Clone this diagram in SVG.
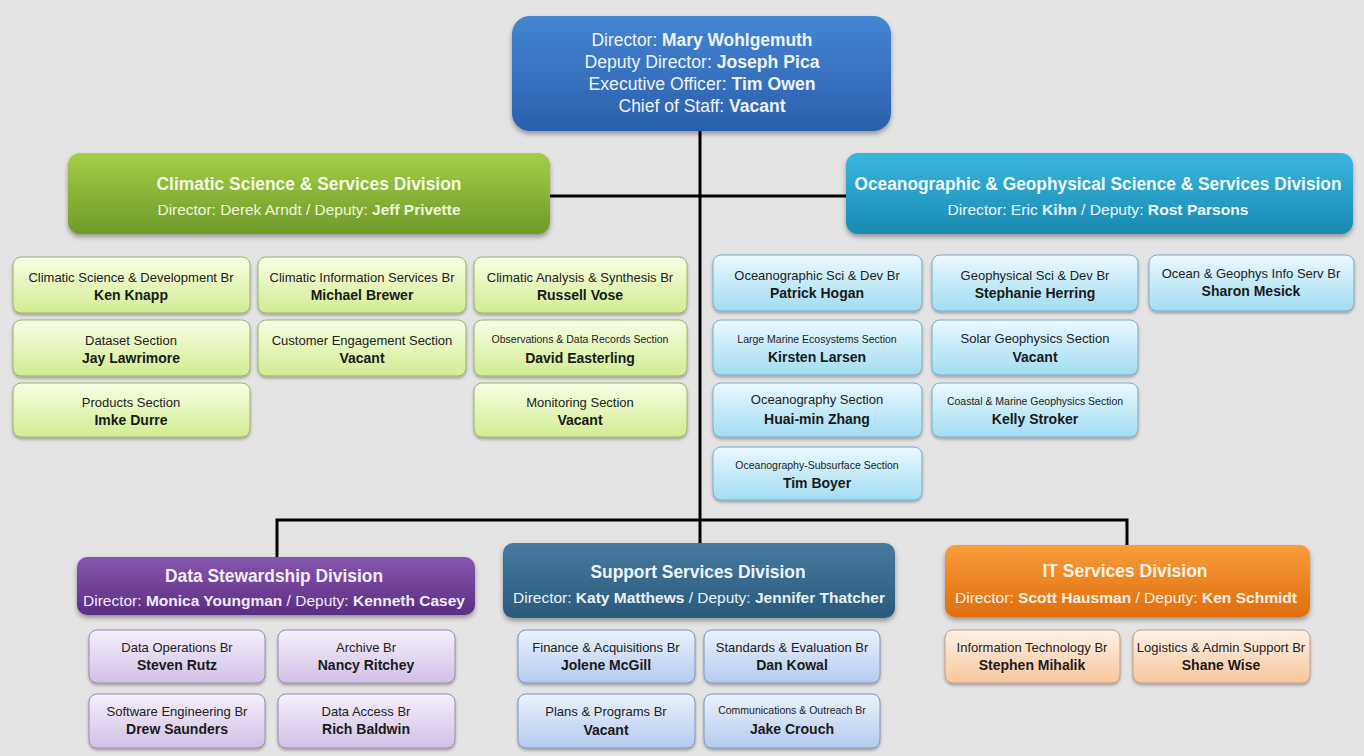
<svg xmlns="http://www.w3.org/2000/svg" width="1364" height="756" viewBox="0 0 1364 756">
<defs>
<linearGradient id="gTop" x1="0" y1="0" x2="0" y2="1"><stop offset="0" stop-color="#4585d2"/><stop offset="1" stop-color="#2a60ac"/></linearGradient>
<linearGradient id="gCli" x1="0" y1="0" x2="0" y2="1"><stop offset="0" stop-color="#a6ce46"/><stop offset="1" stop-color="#6e9a2a"/></linearGradient>
<linearGradient id="gOce" x1="0" y1="0" x2="0" y2="1"><stop offset="0" stop-color="#3ab6de"/><stop offset="1" stop-color="#1a8ab2"/></linearGradient>
<linearGradient id="gDat" x1="0" y1="0" x2="0" y2="1"><stop offset="0" stop-color="#8856ae"/><stop offset="1" stop-color="#5a2e82"/></linearGradient>
<linearGradient id="gSup" x1="0" y1="0" x2="0" y2="1"><stop offset="0" stop-color="#467a9e"/><stop offset="1" stop-color="#2a5a7c"/></linearGradient>
<linearGradient id="gIT" x1="0" y1="0" x2="0" y2="1"><stop offset="0" stop-color="#fa9c3c"/><stop offset="1" stop-color="#de6e0e"/></linearGradient>
<linearGradient id="lCli" x1="0" y1="0" x2="0" y2="1"><stop offset="0" stop-color="#f8fee4"/><stop offset="1" stop-color="#d2ec92"/></linearGradient>
<linearGradient id="lOce" x1="0" y1="0" x2="0" y2="1"><stop offset="0" stop-color="#eaf9fe"/><stop offset="1" stop-color="#a2dcf2"/></linearGradient>
<linearGradient id="lDat" x1="0" y1="0" x2="0" y2="1"><stop offset="0" stop-color="#f6f0fb"/><stop offset="1" stop-color="#d0c0e6"/></linearGradient>
<linearGradient id="lSup" x1="0" y1="0" x2="0" y2="1"><stop offset="0" stop-color="#ecf2fc"/><stop offset="1" stop-color="#b4caee"/></linearGradient>
<linearGradient id="lIT" x1="0" y1="0" x2="0" y2="1"><stop offset="0" stop-color="#fff2e6"/><stop offset="1" stop-color="#f8c69c"/></linearGradient>
<filter id="sh" x="-10%" y="-20%" width="120%" height="150%"><feDropShadow dx="0" dy="3" stdDeviation="2.5" flood-color="#000" flood-opacity="0.35"/></filter>
<filter id="shs" x="-10%" y="-20%" width="120%" height="150%"><feDropShadow dx="0" dy="2" stdDeviation="1.5" flood-color="#000" flood-opacity="0.3"/></filter>
</defs>
<style>
text{font-family:"Liberation Sans Narrow","Liberation Sans",Arial,sans-serif;text-anchor:middle}
.b{font-weight:bold}
.big{filter:url(#sh)}
.sm{filter:url(#shs);stroke-width:1}
.cli{fill:url(#lCli);stroke:#9cb46a}
.oce{fill:url(#lOce);stroke:#76aecb}
.dat{fill:url(#lDat);stroke:#9a88b4}
.sup{fill:url(#lSup);stroke:#7e94bc}
.it{fill:url(#lIT);stroke:#c89c7c}
.t1{font-size:13px;fill:#222}
.t1s{font-size:10.5px;fill:#222}
.t2{font-size:14px;font-weight:bold;fill:#1a1a1a}
.dt{font-size:18px;font-weight:bold}
.ds{font-size:15px}
.top{font-size:18px;fill:#eef3fc}
.conn{stroke:#000;stroke-width:3;fill:none}
</style>
<rect width="1364" height="756" fill="#e4e4e4"/>
<g id="connectors">
<line class="conn" x1="700" y1="131" x2="700" y2="521"/>
<line class="conn" x1="550" y1="196" x2="846" y2="196"/>
<polyline class="conn" points="277,558 277,520 1127,520 1127,546"/>
<line class="conn" x1="700" y1="520" x2="700" y2="544"/>
</g>
<g id="director">
<rect class="big" x="512" y="16" width="379" height="115" rx="18" fill="url(#gTop)"/>
<text class="top" x="702" y="46" textLength="221" lengthAdjust="spacingAndGlyphs">Director: <tspan class="b">Mary Wohlgemuth</tspan></text>
<text class="top" x="702" y="68" textLength="235" lengthAdjust="spacingAndGlyphs">Deputy Director:  <tspan class="b">Joseph Pica</tspan></text>
<text class="top" x="702" y="90" textLength="227" lengthAdjust="spacingAndGlyphs">Executive Officer:  <tspan class="b">Tim Owen</tspan></text>
<text class="top" x="702" y="112" textLength="167" lengthAdjust="spacingAndGlyphs">Chief of Staff: <tspan class="b">Vacant</tspan></text>
</g>
<g id="climatic-division">
<rect class="big" x="68" y="153" width="482" height="81" rx="12" fill="url(#gCli)"/>
<text class="dt" x="309" y="190" fill="#f2f9e2" textLength="305" lengthAdjust="spacingAndGlyphs">Climatic Science &amp; Services Division</text>
<text class="ds" x="309" y="215" fill="#eef6dc" textLength="303" lengthAdjust="spacingAndGlyphs">Director: Derek Arndt / Deputy: <tspan class="b">Jeff Privette</tspan></text>
</g>
<g id="ocean-division">
<rect class="big" x="846" y="153" width="507" height="81" rx="12" fill="url(#gOce)"/>
<text class="dt" x="1098" y="190" fill="#eefaff" textLength="487" lengthAdjust="spacingAndGlyphs">Oceanographic &amp; Geophysical Science &amp; Services Division</text>
<text class="ds" x="1098" y="215" fill="#eaf8ff" textLength="301" lengthAdjust="spacingAndGlyphs">Director: Eric <tspan class="b">Kihn</tspan> / Deputy: <tspan class="b">Rost Parsons</tspan></text>
</g>
<g id="cli-sci-dev"><rect class="sm cli" x="13" y="257" width="237" height="56" rx="8"/><text class="t1" x="131" y="282">Climatic Science &amp; Development Br</text><text class="t2" x="131" y="300">Ken Knapp</text></g>
<g id="dataset-section"><rect class="sm cli" x="13" y="320" width="237" height="56" rx="8"/><text class="t1" x="131" y="345">Dataset Section</text><text class="t2" x="131" y="363">Jay Lawrimore</text></g>
<g id="products-section"><rect class="sm cli" x="13" y="383" width="237" height="54" rx="8"/><text class="t1" x="131" y="407">Products Section</text><text class="t2" x="131" y="425">Imke Durre</text></g>
<g id="cli-info-serv"><rect class="sm cli" x="258" y="257" width="208" height="56" rx="8"/><text class="t1" x="362" y="282">Climatic Information Services Br</text><text class="t2" x="362" y="300">Michael Brewer</text></g>
<g id="customer-engagement"><rect class="sm cli" x="258" y="320" width="208" height="56" rx="8"/><text class="t1" x="362" y="345">Customer Engagement Section</text><text class="t2" x="362" y="363">Vacant</text></g>
<g id="cli-analysis"><rect class="sm cli" x="474" y="257" width="213" height="56" rx="8"/><text class="t1" x="580" y="282">Climatic Analysis &amp; Synthesis Br</text><text class="t2" x="580" y="300">Russell Vose</text></g>
<g id="obs-data-records"><rect class="sm cli" x="474" y="320" width="213" height="56" rx="8"/><text class="t1s" x="580" y="343">Observations &amp; Data Records Section</text><text class="t2" x="580" y="363">David Easterling</text></g>
<g id="monitoring-section"><rect class="sm cli" x="474" y="383" width="213" height="54" rx="8"/><text class="t1" x="580" y="407">Monitoring Section</text><text class="t2" x="580" y="425">Vacant</text></g>
<g id="ocean-sci-dev"><rect class="sm oce" x="713" y="255" width="209" height="56" rx="8"/><text class="t1" x="817" y="280">Oceanographic  Sci &amp; Dev Br</text><text class="t2" x="817" y="298">Patrick Hogan</text></g>
<g id="large-marine"><rect class="sm oce" x="713" y="320" width="209" height="55" rx="8"/><text class="t1s" x="817" y="343">Large Marine Ecosystems Section</text><text class="t2" x="817" y="362">Kirsten Larsen</text></g>
<g id="oceanography-section"><rect class="sm oce" x="713" y="383" width="209" height="54" rx="8"/><text class="t1" x="817" y="404">Oceanography  Section</text><text class="t2" x="817" y="424">Huai-min Zhang</text></g>
<g id="ocean-subsurface"><rect class="sm oce" x="713" y="447" width="209" height="53" rx="8"/><text class="t1s" x="817" y="469">Oceanography-Subsurface Section</text><text class="t2" x="817" y="488">Tim Boyer</text></g>
<g id="geo-sci-dev"><rect class="sm oce" x="932" y="255" width="206" height="56" rx="8"/><text class="t1" x="1035" y="280">Geophysical Sci &amp; Dev Br</text><text class="t2" x="1035" y="298">Stephanie Herring</text></g>
<g id="solar-geophysics"><rect class="sm oce" x="932" y="320" width="206" height="55" rx="8"/><text class="t1" x="1035" y="343">Solar Geophysics Section</text><text class="t2" x="1035" y="362">Vacant</text></g>
<g id="coastal-marine"><rect class="sm oce" x="932" y="383" width="206" height="54" rx="8"/><text class="t1s" x="1035" y="405">Coastal &amp; Marine Geophysics Section</text><text class="t2" x="1035" y="424">Kelly Stroker</text></g>
<g id="ocean-geo-info"><rect class="sm oce" x="1149" y="255" width="205" height="56" rx="8"/><text class="t1" x="1251" y="278">Ocean &amp; Geophys Info Serv Br</text><text class="t2" x="1251" y="296">Sharon Mesick</text></g>
<g id="data-stewardship-division">
<rect class="big" x="77" y="557" width="398" height="58" rx="10" fill="url(#gDat)"/>
<text class="dt" x="274" y="582" fill="#f4eefa" textLength="218" lengthAdjust="spacingAndGlyphs">Data Stewardship Division</text>
<text class="ds" x="274" y="606" fill="#f0eaf8" textLength="382" lengthAdjust="spacingAndGlyphs">Director: <tspan class="b">Monica Youngman</tspan> / Deputy: <tspan class="b">Kenneth Casey</tspan></text>
</g>
<g id="data-operations"><rect class="sm dat" x="89" y="630" width="176" height="53" rx="8"/><text class="t1" x="177" y="652">Data Operations Br</text><text class="t2" x="177" y="670">Steven Rutz</text></g>
<g id="archive"><rect class="sm dat" x="278" y="630" width="177" height="53" rx="8"/><text class="t1" x="366" y="652">Archive Br</text><text class="t2" x="366" y="670">Nancy Ritchey</text></g>
<g id="software-engineering"><rect class="sm dat" x="89" y="694" width="176" height="54" rx="8"/><text class="t1" x="177" y="716">Software Engineering  Br</text><text class="t2" x="177" y="734">Drew Saunders</text></g>
<g id="data-access"><rect class="sm dat" x="278" y="694" width="177" height="54" rx="8"/><text class="t1" x="366" y="716">Data Access Br</text><text class="t2" x="366" y="734">Rich Baldwin</text></g>
<g id="support-services-division">
<rect class="big" x="503" y="543" width="392" height="75" rx="10" fill="url(#gSup)"/>
<text class="dt" x="698" y="578" fill="#eef4fa" textLength="215" lengthAdjust="spacingAndGlyphs">Support Services Division</text>
<text class="ds" x="699" y="603" fill="#eaf2f8" textLength="372" lengthAdjust="spacingAndGlyphs">Director: <tspan class="b">Katy Matthews</tspan> / Deputy: <tspan class="b">Jennifer Thatcher</tspan></text>
</g>
<g id="finance"><rect class="sm sup" x="518" y="630" width="177" height="53" rx="8"/><text class="t1" x="606" y="652">Finance &amp; Acquisitions Br</text><text class="t2" x="606" y="670">Jolene McGill</text></g>
<g id="standards"><rect class="sm sup" x="704" y="630" width="176" height="53" rx="8"/><text class="t1" x="792" y="652">Standards &amp; Evaluation Br</text><text class="t2" x="792" y="670">Dan Kowal</text></g>
<g id="plans-programs"><rect class="sm sup" x="518" y="694" width="177" height="54" rx="8"/><text class="t1" x="606" y="716">Plans &amp; Programs Br</text><text class="t2" x="606" y="735">Vacant</text></g>
<g id="communications"><rect class="sm sup" x="704" y="694" width="176" height="54" rx="8"/><text class="t1s" x="792" y="714">Communications &amp; Outreach Br</text><text class="t2" x="792" y="734">Jake Crouch</text></g>
<g id="it-services-division">
<rect class="big" x="945" y="545" width="365" height="72" rx="10" fill="url(#gIT)"/>
<text class="dt" x="1125" y="577" fill="#fff4e8" textLength="165" lengthAdjust="spacingAndGlyphs">IT Services Division</text>
<text class="ds" x="1126" y="603" fill="#fff0e2" textLength="342" lengthAdjust="spacingAndGlyphs">Director: <tspan class="b">Scott Hausman</tspan> / Deputy: <tspan class="b">Ken Schmidt</tspan></text>
</g>
<g id="info-tech"><rect class="sm it" x="945" y="630" width="175" height="53" rx="8"/><text class="t1" x="1032" y="652">Information  Technology  Br</text><text class="t2" x="1032" y="670">Stephen Mihalik</text></g>
<g id="logistics"><rect class="sm it" x="1133" y="630" width="177" height="53" rx="8"/><text class="t1" x="1221" y="652">Logistics &amp; Admin Support Br</text><text class="t2" x="1221" y="670">Shane Wise</text></g>
</svg>
